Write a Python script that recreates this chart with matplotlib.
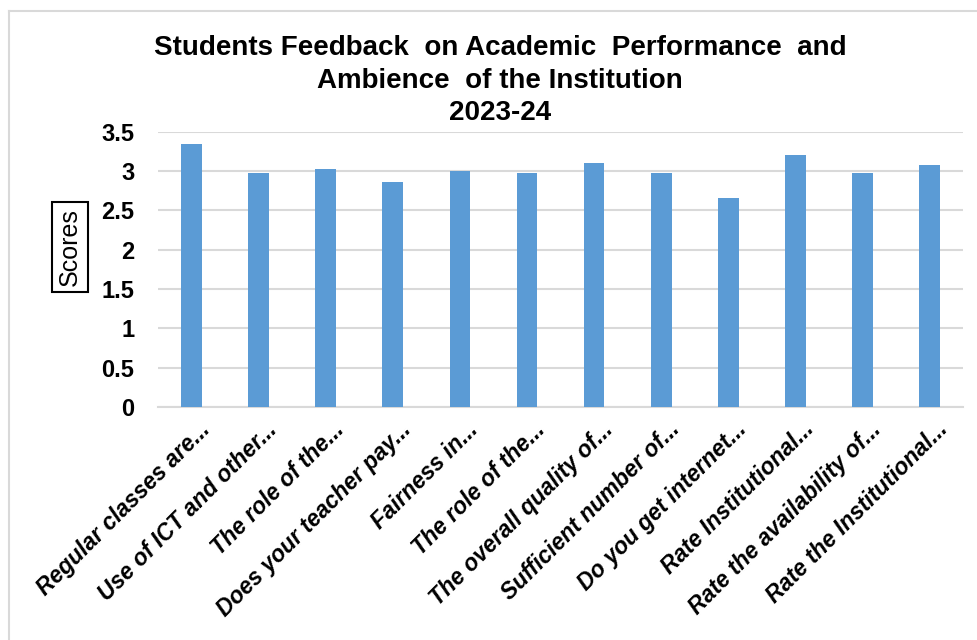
import matplotlib
matplotlib.use("Agg")
import matplotlib.pyplot as plt
from matplotlib.lines import Line2D
import matplotlib.transforms as mtransforms

# data
questions = [
    "Regular classes are...",
    "Use of ICT and other...",
    "The role of the...",
    "Does your teacher pay...",
    "Fairness in...",
    "The role of the...",
    "The overall quality of...",
    "Sufficient number of...",
    "Do you get internet...",
    "Rate Institutional...",
    "Rate the availability of...",
    "Rate the Institutional...",
]
scores = [3.35, 2.98, 3.03, 2.86, 3.00, 2.98, 3.10, 2.98, 2.66, 3.20, 2.98, 3.08]
yticks = [0, 0.5, 1, 1.5, 2, 2.5, 3, 3.5]

plt.rcParams['font.family'] = ['Liberation Sans', 'DejaVu Sans']

fig = plt.figure(figsize=(9.78, 6.4), dpi=100)
ax = fig.add_axes([0.1616, 0.364, 0.8231, 0.430])

x = list(range(len(questions)))
ax.bar(x, scores, width=0.31, color="#5b9bd5", zorder=3)

ax.set_xlim(-0.5, len(questions) - 0.5)
ax.set_ylim(0, 3.5)
ax.set_yticks(yticks)
ax.set_yticklabels([f"{t:g}" for t in yticks], fontsize=17, fontweight="bold")
ax.yaxis.grid(True, color="#d9d9d9", linewidth=1.5, zorder=0)
ax.tick_params(axis="both", length=0)
ax.tick_params(axis="y", pad=17)
for s in ["top", "right", "left"]:
    ax.spines[s].set_visible(False)
ax.spines["bottom"].set_color("#d9d9d9")
ax.spines["bottom"].set_linewidth(1.5)

ax.set_xticks(x)
ax.set_xticklabels(questions, rotation=45, ha="right", va="center",
                   rotation_mode="anchor", fontsize=16.5, fontweight="bold",
                   fontstyle="italic")
offset = mtransforms.ScaledTranslation(15 / 100, -14 / 100, fig.dpi_scale_trans)
for lbl in ax.get_xticklabels():
    lbl.set_transform(lbl.get_transform() + offset)

# boxed y label
fig.text(70 / 978, 1 - 247 / 640, "Scores", rotation=90, ha="center", va="center",
         fontsize=18,
         bbox=dict(boxstyle="square,pad=0.25", facecolor="white", edgecolor="black", linewidth=1.5))

# title
title_lines = ["Students Feedback  on Academic  Performance  and",
               "Ambience  of the Institution",
               "2023-24"]
baselines = [55, 88, 120]
for t, b in zip(title_lines, baselines):
    fig.text(500 / 978, 1 - b / 640, t, ha="center", va="baseline",
             fontsize=20, fontweight="bold")

# chart area border (top and left edges visible)
fig.add_artist(Line2D([9 / 978, 1], [1 - 11 / 640, 1 - 11 / 640], color="#d9d9d9", linewidth=1.5))
fig.add_artist(Line2D([9 / 978, 9 / 978], [0, 1 - 11 / 640], color="#d9d9d9", linewidth=1.5))

fig.savefig("out.png", dpi=100)
